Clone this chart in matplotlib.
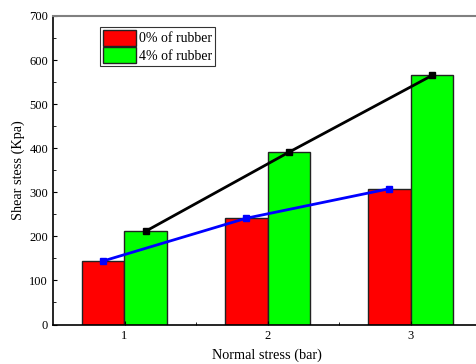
import numpy as np
import matplotlib.pyplot as plt

plt.rcParams["font.family"] = ["Liberation Serif", "DejaVu Serif"]

#### Data.
normal_stress = np.array([1, 2, 3])
shear_0 = [144, 241, 308]
shear_4 = [212, 391, 565]
labels = ["0% of rubber", "4% of rubber"]

#### Parameters.
W = 0.3
BAR_KWARGS = dict(width=W, linewidth=1, edgecolor="#222222")

fig = plt.figure(figsize=(4.77, 3.64), dpi=100)
ax = fig.add_axes([53 / 477, 1 - 324.5 / 364, 429 / 477, 308.5 / 364])

ax.bar(normal_stress - W / 2, shear_0, color="#ff0000", label=labels[0], **BAR_KWARGS)
ax.bar(normal_stress + W / 2, shear_4, color="#00ff00", label=labels[1], **BAR_KWARGS)

ax.plot(normal_stress - W / 2, shear_0, color="#0000ff", lw=2, marker="s", ms=5)
ax.plot(normal_stress + W / 2, shear_4, color="black", lw=2, marker="s", ms=5)

# aesthetics
ax.set_xlim(0.5, 3.5)
ax.set_ylim(0, 700)
ax.set_xticks(normal_stress)
ax.set_xticks([1.5, 2.5], minor=True)
ax.yaxis.set_major_locator(plt.MultipleLocator(100))
ax.yaxis.set_minor_locator(plt.MultipleLocator(50))
ax.tick_params(axis="both", which="both", direction="in", labelsize=9, top=False, right=False)
ax.tick_params(which="major", length=3)
ax.tick_params(which="minor", length=2)
ax.tick_params(axis="x", pad=4)
ax.spines["top"].set_color("#808080")
ax.spines["top"].set_linewidth(1.5)
ax.spines["right"].set_visible(False)
ax.spines[["left", "bottom"]].set_linewidth(1.2)

ax.set_ylabel("Shear stess (Kpa)", fontsize=10.3)
ax.yaxis.set_label_coords(-(53 - 18) / 429, 0.5)
ax.yaxis.label.set_va("center")
ax.set_xlabel("Normal stress (bar)", fontsize=10.3)
ax.xaxis.set_label_coords((267 - 53) / 429, -(355 - 324.5) / 308.5)
ax.xaxis.label.set_va("center")

leg = ax.legend(loc="upper left", bbox_to_anchor=(0.11, 0.965), fontsize=10,
    frameon=True, fancybox=False, edgecolor="black", borderpad=0.2,
    handlelength=2.4, handleheight=1.4, handletextpad=0.2, labelspacing=0.1,
    borderaxespad=0)
leg.get_frame().set_linewidth(0.8)

plt.savefig("out.png", dpi=100)
plt.close()
